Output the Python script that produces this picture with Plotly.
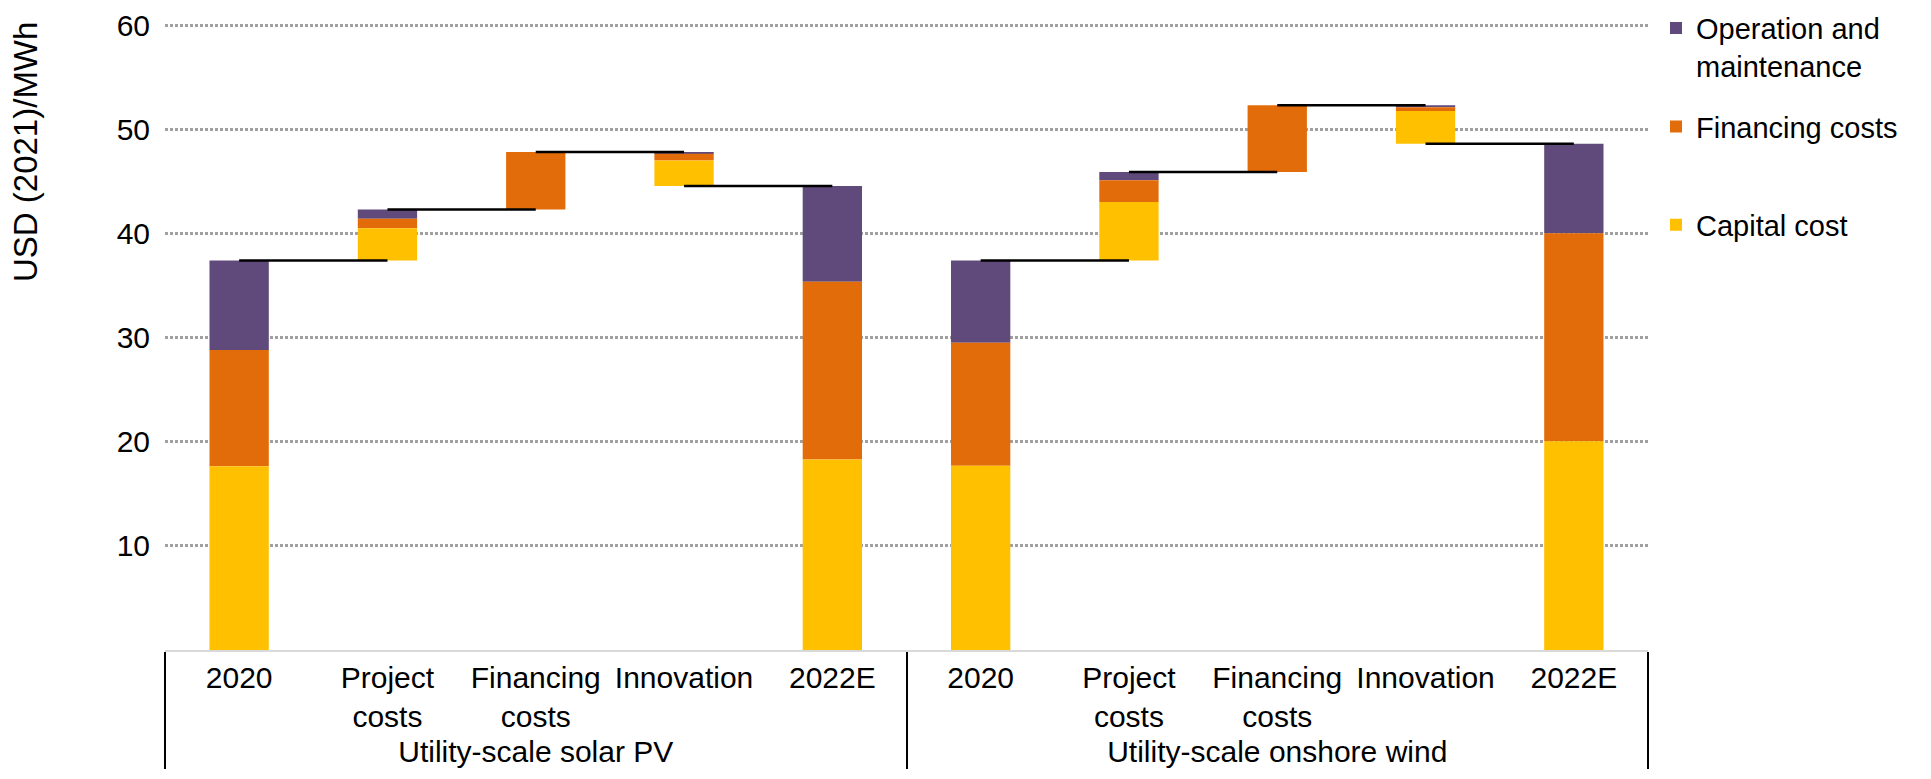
import plotly.graph_objects as go

# Datos (USD (2021)/MWh)
groups = ["Utility-scale solar PV", "Utility-scale onshore wind"]
steps = ["2020", "Project<br>costs", "Financing<br>costs", "Innovation", "2022E"]
step_kind = ["total", "delta", "delta", "delta", "total"]

solar_capital = [17.65, 3.1, 0.0, -2.45, 18.3]
solar_financing = [11.15, 0.9, 5.5, -0.65, 17.05]
solar_om = [8.6, 0.9, 0.0, -0.15, 9.2]

wind_capital = [17.7, 5.6, 0.0, -3.15, 20.05]
wind_financing = [11.8, 2.1, 6.4, -0.35, 19.95]
wind_om = [7.9, 0.8, 0.0, -0.2, 8.6]

series_names = ["Capital cost", "Financing costs", "Operation and<br>maintenance"]
series_colors = ["#FFC000", "#E36C0A", "#604A7B"]

data = {
    groups[0]: [solar_capital, solar_financing, solar_om],
    groups[1]: [wind_capital, wind_financing, wind_om],
}

FONT = "Liberation Sans, Arial, sans-serif"

# Calcular bases de cada segmento (cascada apilada)
x_group, x_cat = [], []
bases = [[], [], []]
heights = [[], [], []]
conn_x0, conn_x1, conn_y = [], [], []

for g in groups:
    comps = data[g]
    running = 0.0
    levels = []
    for i, step in enumerate(steps):
        vals = [c[i] for c in comps]
        total = sum(vals)
        if step_kind[i] == "total":
            bottom = 0.0
            running = total
        else:
            bottom = running if total >= 0 else running + total
            running = running + total
        levels.append(running)
        x_group.append(g)
        x_cat.append(step)
        acc = bottom
        for k in range(3):
            h = abs(vals[k])
            bases[k].append(acc)
            heights[k].append(h)
            acc += h
    for i in range(len(steps) - 1):
        conn_x0.append((g, steps[i]))
        conn_x1.append((g, steps[i + 1]))
        conn_y.append(levels[i])

fig = go.Figure()

# Barras (orden para la leyenda: O&M arriba); todas las entradas con 2 líneas
for k in [2, 1, 0]:
    label = series_names[k] if "<br>" in series_names[k] else series_names[k] + "<br>\u00a0"
    fig.add_trace(go.Bar(
        x=[x_group, x_cat],
        y=heights[k],
        base=bases[k],
        name=label,
        marker=dict(color=series_colors[k], line=dict(width=0)),
        width=0.4,
        legendgroup=f"g{k}",
        legendrank=3 - k,
        hoverinfo="skip",
    ))

# Líneas conectoras
lx_g, lx_c, ly = [], [], []
for a, b, yv in zip(conn_x0, conn_x1, conn_y):
    lx_g += [a[0], b[0], b[0]]
    lx_c += [a[1], b[1], b[1]]
    ly += [yv, yv, None]

fig.add_trace(go.Scatter(
    x=[lx_g, lx_c],
    y=ly,
    mode="lines",
    line=dict(color="black", width=2.5),
    showlegend=False,
    hoverinfo="skip",
    connectgaps=False,
))

fig.update_layout(
    barmode="overlay",
    width=1931,
    height=779,
    margin=dict(l=157, r=291, t=16, b=137, autoexpand=False),
    paper_bgcolor="white",
    plot_bgcolor="white",
    font=dict(family=FONT, size=30, color="black"),
    legend=dict(
        x=1.0054, y=1.034, xanchor="left", yanchor="top",
        font=dict(size=29, color="black"),
        tracegroupgap=20,
        valign="top",
        itemwidth=30,
    ),
    annotations=[dict(
        text="USD (2021)/MWh",
        textangle=-90,
        xref="paper", yref="paper",
        x=-0.0944, y=0.7955,
        xanchor="center", yanchor="middle",
        showarrow=False,
        font=dict(size=33, color="black"),
    )],
)

fig.update_yaxes(
    range=[0, 60.1],
    tickvals=[10, 20, 30, 40, 50, 60],
    showgrid=True,
    gridcolor="#A0A0A0",
    griddash="3px,2px",
    gridwidth=3,
    zeroline=False,
    showline=False,
    ticks="",
    ticklabelstandoff=14,
    ticklabeloverflow="allow",
    tickfont=dict(size=30),
    automargin=False,
)

fig.update_xaxes(
    type="multicategory",
    showgrid=False,
    showline=True,
    linecolor="#D9D9D9",
    linewidth=2,
    ticks="",
    tickfont=dict(size=30),
    showdividers=True,
    dividercolor="black",
    dividerwidth=2,
    automargin=False,
)

fig.write_html("out.html")
